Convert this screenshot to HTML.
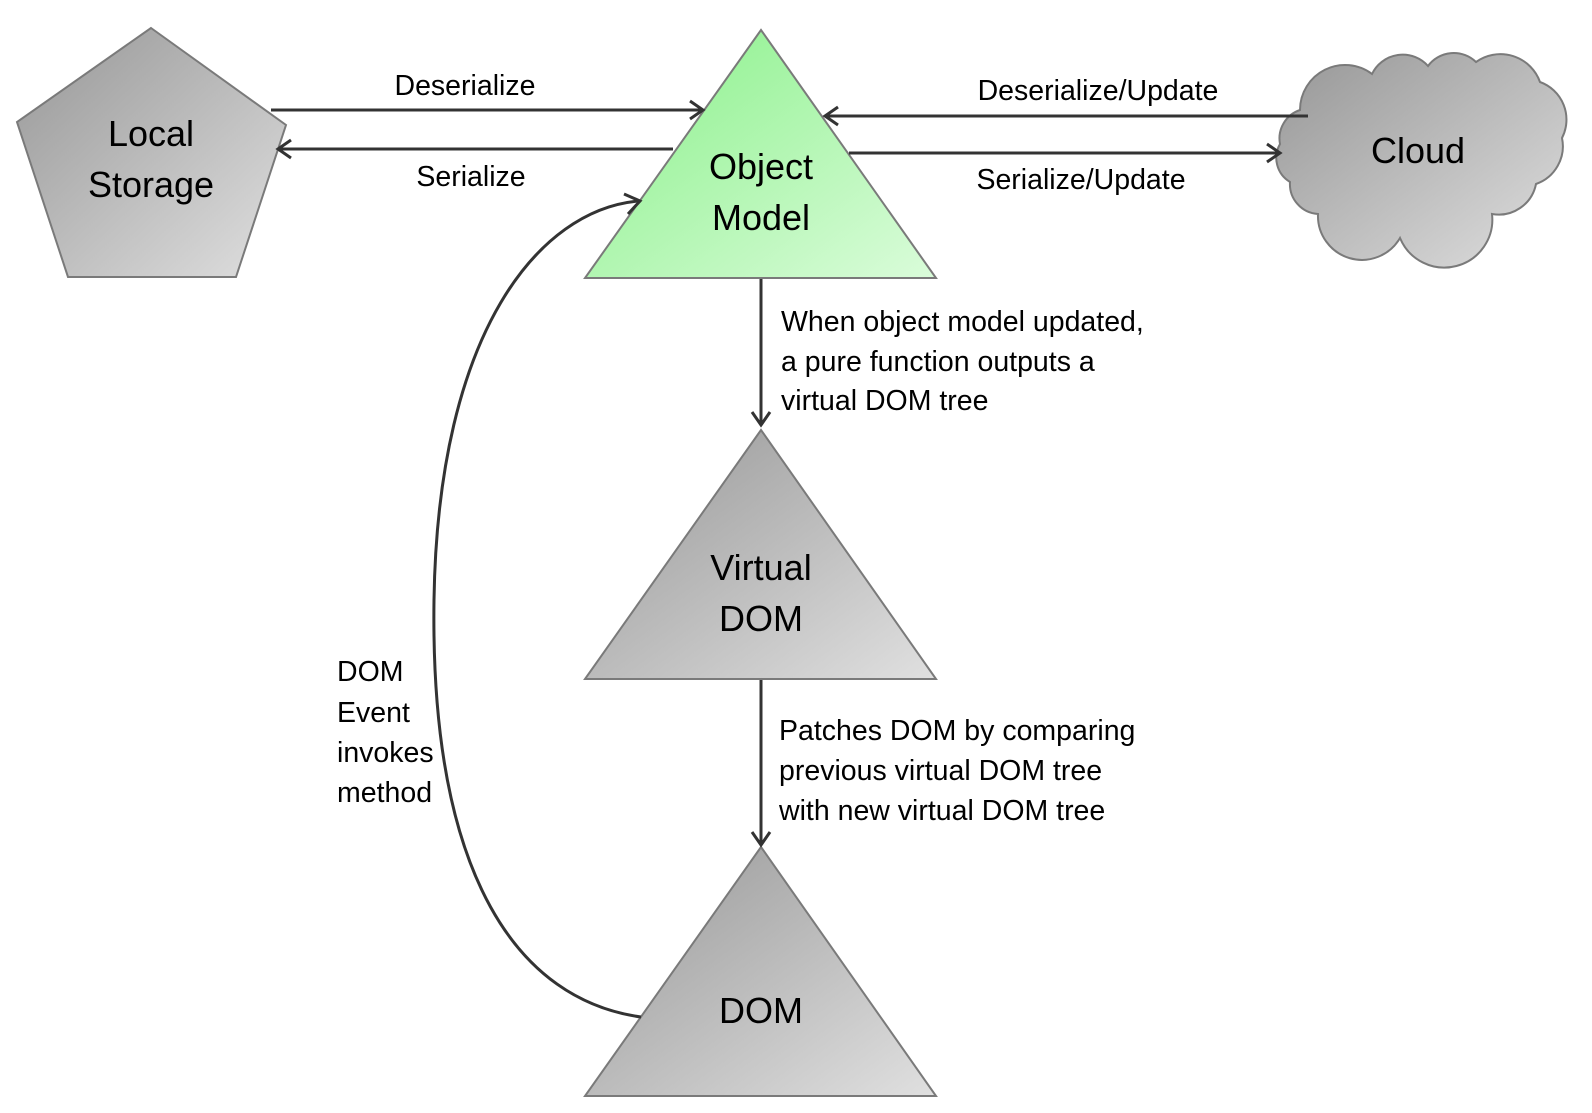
<!DOCTYPE html>
<html><head><meta charset="utf-8"><style>
html,body{margin:0;padding:0;background:#fff}
svg{display:block}
text{font-family:"Liberation Sans",sans-serif;fill:#000}
</style></head><body>
<svg width="1592" height="1113" viewBox="0 0 1592 1113" xmlns="http://www.w3.org/2000/svg">
<defs>
<linearGradient id="g" x1="0" y1="0" x2="1" y2="1"><stop offset="0" stop-color="#969696"/><stop offset="1" stop-color="#e0e0e0"/></linearGradient>
<linearGradient id="gr" x1="0" y1="0" x2="1" y2="1"><stop offset="0" stop-color="#88f088"/><stop offset="1" stop-color="#dafcda"/></linearGradient>
</defs>
<g stroke="#7a7a7a" stroke-width="2">
<polygon points="151,28 286,125 236,277 68,277 17,122" fill="url(#g)"/>
<polygon points="761,30 936,278 585,278" fill="url(#gr)"/>
<polygon points="761,430 936,679 585,679" fill="url(#g)"/>
<polygon points="761,847 936,1096 585,1096" fill="url(#g)"/>
<path d="M1300,110 A45,45 0 0 1 1372,74 A34,34 0 0 1 1428,66 A32,32 0 0 1 1476,62 A42,42 0 0 1 1540,82 A40,40 0 0 1 1562,138 A40,40 0 0 1 1536,184 A38,38 0 0 1 1492,214 A48,48 0 0 1 1400,238 A44,44 0 0 1 1318,214 A30,30 0 0 1 1290,182 A28,28 0 0 1 1280,144 A30,30 0 0 1 1300,110 Z" fill="url(#g)"/>
</g>
<g stroke="#333" stroke-width="3" fill="none">
<line x1="271" y1="110" x2="702" y2="110"/><polyline points="690,101 703,110 690,119"/>
<line x1="673" y1="149" x2="279" y2="149"/><polyline points="291,140 278,149 291,158"/>
<line x1="1308" y1="116" x2="826" y2="116"/><polyline points="838,107 825,116 838,125"/>
<line x1="849" y1="153" x2="1279" y2="153"/><polyline points="1267,144 1280,153 1267,162"/>
<line x1="761" y1="279" x2="761" y2="424"/><polyline points="752,412 761,425 770,412"/>
<line x1="761" y1="680" x2="761" y2="844"/><polyline points="752,832 761,845 770,832"/>
<path d="M641,1017 C520,1000 430,880 434,600 C438,330 540,210 638,201"/><polyline points="624,194 640,201 628,214"/>
</g>
<g font-size="28.5">
<text x="465" y="95" text-anchor="middle">Deserialize</text>
<text x="471" y="186" text-anchor="middle">Serialize</text>
<text x="1098" y="100" text-anchor="middle">Deserialize/Update</text>
<text x="1081" y="189" text-anchor="middle">Serialize/Update</text>
<text x="781" y="331">When object model updated,</text>
<text x="781" y="371">a pure function outputs a</text>
<text x="781" y="410">virtual DOM tree</text>
<text x="779" y="740">Patches DOM by comparing</text>
<text x="779" y="780">previous virtual DOM tree</text>
<text x="779" y="820">with new virtual DOM tree</text>
<text x="337" y="681">DOM</text>
<text x="337" y="722">Event</text>
<text x="337" y="762">invokes</text>
<text x="337" y="802">method</text>
</g>
<g font-size="36" text-anchor="middle">
<text x="151" y="146">Local</text>
<text x="151" y="197">Storage</text>
<text x="761" y="179">Object</text>
<text x="761" y="230">Model</text>
<text x="761" y="580">Virtual</text>
<text x="761" y="631">DOM</text>
<text x="761" y="1023">DOM</text>
<text x="1418" y="163">Cloud</text>
</g>
</svg>
</body></html>
